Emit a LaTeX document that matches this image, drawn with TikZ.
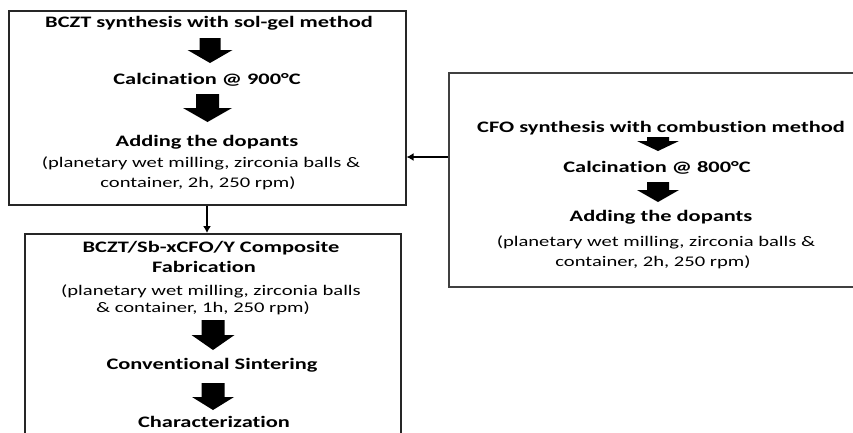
\documentclass[tikz,border=0pt]{standalone}
\usepackage{fontspec}
\setmainfont{Carlito}[FakeStretch=1.4, Ligatures=NoCommon, Contextuals=NoAlternate]
\usetikzlibrary{arrows.meta}
\newcommand\blkarrow[6]{\fill[black] (#1-#5,#2) -- (#1+#5,#2) -- (#1+#5,#3) -- (#1+#6,#3) -- (#1,#4) -- (#1-#6,#3) -- (#1-#5,#3) -- cycle;}
\begin{document}
\begin{tikzpicture}[x=1pt,y=-1pt,
  box/.style={draw=black!85, line width=1.6pt, anchor=north west, inner sep=0pt},
  hd/.style={font=\fontsize{16}{19}\selectfont\bfseries, inner sep=0pt},
  tx/.style={font=\fontsize{14.7}{18}\selectfont, inner sep=0pt},
  conn/.style={-{Latex[length=7pt,width=8pt]}, line width=1.3pt}]
\useasboundingbox (0,0) rectangle (853,432);
\clip (0,0) rectangle (853,432);
\fill[white] (0,0) rectangle (853,432);
% boxes
\node[box, minimum width=397pt, minimum height=194pt] (b1) at (8,10) {};
\node[box, draw=black!75, minimum width=420pt, minimum height=214pt] (b2) at (448,72) {};
\node[box, line width=2.2pt, minimum width=376pt, minimum height=230pt] (b3) at (24,233) {};
% box 1
\node[hd] (t11) at (209,23) {BCZT synthesis with sol-gel method};
\blkarrow{210}{38}{50}{63}{10.5}{22.5}
\node[hd] (t12) at (207,80) {Calcination @ 900°C};
\blkarrow{207.5}{94}{108}{122}{11.5}{24.5}
\node[hd] (t13) at (207,142) {Adding the dopants};
\node[tx] (t14) at (201,163) {(planetary wet milling, zirconia balls \&};
\node[tx] (t15) at (198,183) {container, 2h, 250 rpm)};
% box 2
\node[hd] (t21) at (661,128) {CFO synthesis with combustion method};
\blkarrow{658}{137}{141}{151}{11}{21}
\node[hd] (t22) at (657,168) {Calcination @ 800°C};
\blkarrow{658}{182}{190}{202}{11}{21}
\node[hd] (t23) at (661,217) {Adding the dopants};
\node[tx] (t24) at (656,242) {(planetary wet milling, zirconia balls \&};
\node[tx] (t25) at (653,262) {container, 2h, 250 rpm)};
% box 3
\node[hd] (t31) at (211,248) {BCZT/Sb-xCFO/Y Composite};
\node[hd] (t32) at (204,267) {Fabrication};
\node[tx] (t33) at (211,291) {(planetary wet milling, zirconia balls};
\node[tx] (t34) at (203,308) {\& container, 1h, 250 rpm)};
\blkarrow{213}{320}{335}{350}{11.5}{21.5}
\node[hd] (t35) at (212,365) {Conventional Sintering};
\blkarrow{213}{383}{397}{410}{11.5}{21}
\node[hd] (t36) at (214,422) {Characterization};
% connectors
\coordinate (cx) at (207,0);
\coordinate (cy) at (0,157);
\draw[conn] (b1.south -| cx) -- (b3.north -| cx);
\draw[conn] (b2.west |- cy) -- (b1.east |- cy);
\end{tikzpicture}
\end{document}
